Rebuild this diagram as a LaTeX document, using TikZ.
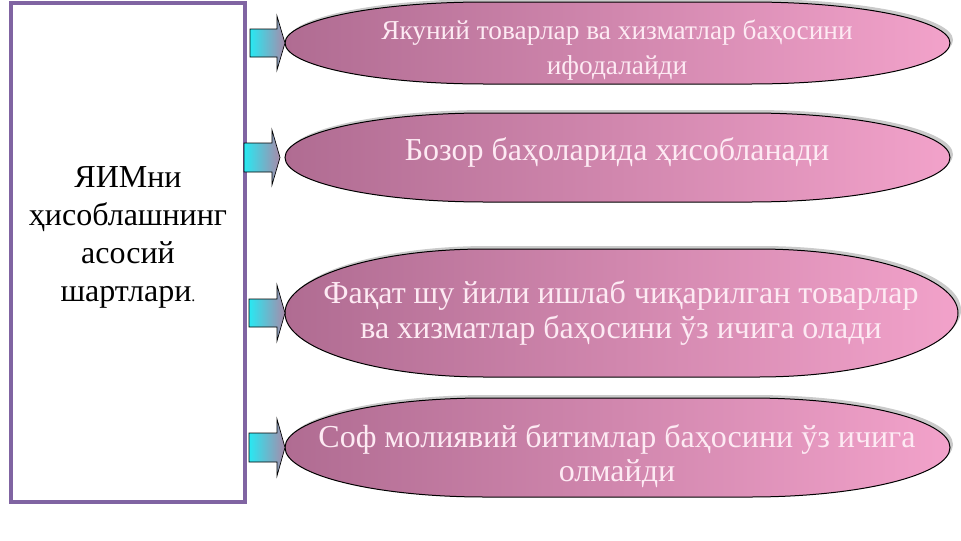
\documentclass[tikz,border=0pt]{standalone}
\usepackage{fontspec}
\setmainfont{Liberation Serif}
\usepackage{tikz}

\begin{document}
\begin{tikzpicture}[x=0.75pt,y=0.75pt,yscale=-1,xscale=1,
  pill/.style={draw=black, line width=0.75pt,
    left color={rgb,255:red,176;green,108;blue,146},
    right color={rgb,255:red,242;green,162;blue,202},
    preaction={fill=black!35, opacity=0.6, transform canvas={shift={(3,3)}}}},
  barrow/.style={draw=black, line width=0.5pt,
    left color={rgb,255:red,40;green,232;blue,242},
    right color={rgb,255:red,168;green,138;blue,170}},
  pilltext/.style={text={rgb,255:red,253;green,234;blue,243}, align=center, inner sep=0.75pt}]
\useasboundingbox (0,0) rectangle (961,540);

%Shape: Rectangle [id:asos]
\draw [color={rgb, 255:red, 128; green, 100; blue, 162 }, line width=3pt, fill=white] (11,3) rectangle (245,502) ;

%Shape: Pill [id:yakuniy]
\draw [pill] (485,2) -- (750,2) .. controls (860.46,2) and (950,20.36) .. (950,43) .. controls (950,65.64) and (860.46,84) .. (750,84) -- (485,84) .. controls (374.54,84) and (285,65.64) .. (285,43) .. controls (285,20.36) and (374.54,2) .. (485,2) -- cycle ;
%Shape: Pill [id:bozor]
\draw [pill] (485,113) -- (750,113) .. controls (860.46,113) and (950,132.92) .. (950,157.5) .. controls (950,182.08) and (860.46,202) .. (750,202) -- (485,202) .. controls (374.54,202) and (285,182.08) .. (285,157.5) .. controls (285,132.92) and (374.54,113) .. (485,113) -- cycle ;
%Shape: Pill [id:faqat]
\draw [pill] (485,249) -- (758,249) .. controls (868.46,249) and (958,277.65) .. (958,313) .. controls (958,348.35) and (868.46,377) .. (758,377) -- (485,377) .. controls (374.54,377) and (285,348.35) .. (285,313) .. controls (285,277.65) and (374.54,249) .. (485,249) -- cycle ;
%Shape: Pill [id:sof]
\draw [pill] (485,398) -- (750,398) .. controls (860.46,398) and (950,420.16) .. (950,447.5) .. controls (950,474.84) and (860.46,497) .. (750,497) -- (485,497) .. controls (374.54,497) and (285,474.84) .. (285,447.5) .. controls (285,420.16) and (374.54,398) .. (485,398) -- cycle ;

%Shape: Right Arrow [id:arr1]
\draw [barrow] (250,29) -- (277,29) -- (277,16) -- (285,43) -- (277,70) -- (277,57) -- (250,57) -- cycle ;
%Shape: Right Arrow [id:arr2]
\draw [barrow] (244,143) -- (272,143) -- (272,130) -- (280,157.5) -- (272,185) -- (272,172) -- (244,172) -- cycle ;
%Shape: Right Arrow [id:arr3]
\draw [barrow] (249,299) -- (277,299) -- (277,285) -- (285,313) -- (277,341) -- (277,327) -- (249,327) -- cycle ;
%Shape: Right Arrow [id:arr4]
\draw [barrow] (249,433) -- (277,433) -- (277,419) -- (285,447.5) -- (277,476) -- (277,462) -- (249,462) -- cycle ;

% Text Node
\draw (128,237) node (asostext) [align=center, inner sep=0.75pt] [font=\fontsize{24}{28.5}\selectfont] {ЯИМни\\ҳисоблашнинг\\асосий\\шартлари{\fontsize{12}{12}\selectfont.}};
% Text Node
\draw (617,50) node (yakuniytext) [pilltext] [font=\fontsize{20.5}{26}\selectfont] {Якуний товарлар ва хизматлар баҳосини\\ифодалайди};
% Text Node
\draw (617,152) node (bozortext) [pilltext] [font=\fontsize{24}{26}\selectfont] {Бозор баҳоларида ҳисобланади};
% Text Node
\draw (621,313) node (faqattext) [pilltext] [font=\fontsize{24}{26}\selectfont] {Фақат шу йили ишлаб чиқарилган товарлар\\ва хизматлар баҳосини ўз ичига олади};
% Text Node
\draw (617,456) node (softext) [pilltext] [font=\fontsize{24}{26}\selectfont] {Соф молиявий битимлар баҳосини ўз ичига\\олмайди};

\end{tikzpicture}
\end{document}
